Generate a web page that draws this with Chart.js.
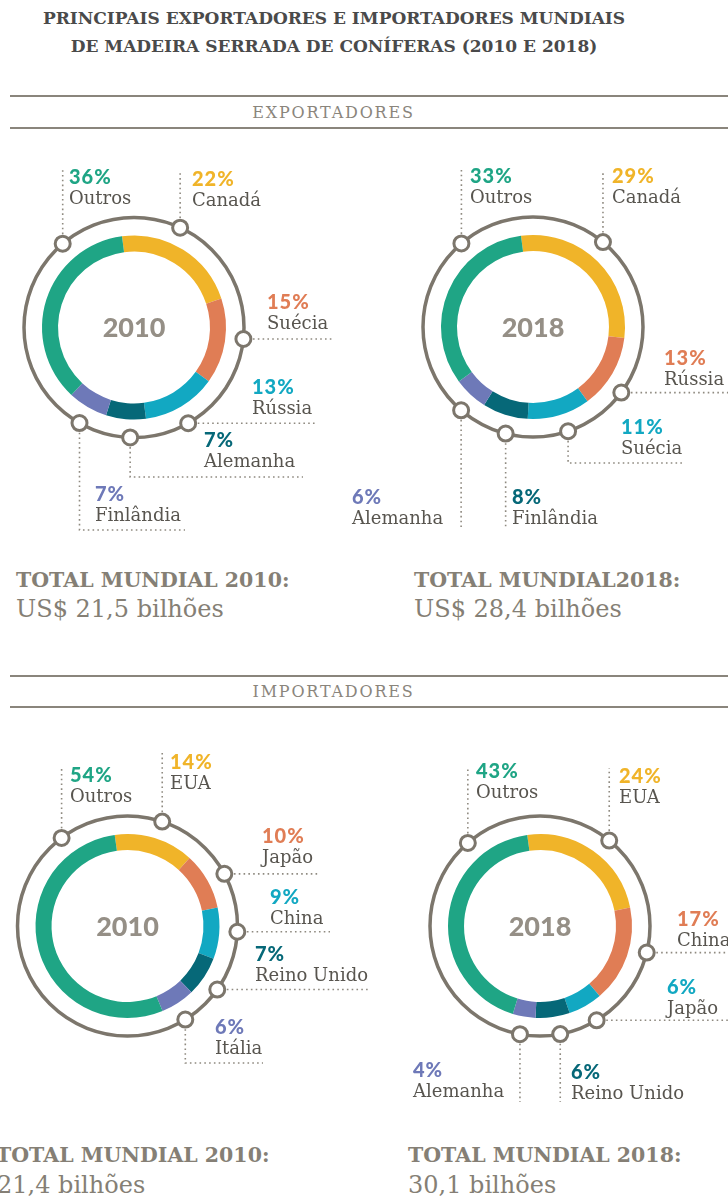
<!DOCTYPE html>
<html>
<head>
<meta charset="utf-8">
<script src="https://cdn.jsdelivr.net/npm/chart.js@4.4.1/dist/chart.umd.min.js"></script>
<style>
  body { margin: 0; background: #fff; width: 728px; height: 1196px; overflow: hidden; position: relative; font-family: "DejaVu Serif", serif; }
  .t { position: absolute; white-space: nowrap; }
  .title { left: 0; width: 668px; text-align: center; font-weight: bold; font-size: 17px; color: #4a4a4a; line-height: 28px; top: 4px; }
  .rule { position: absolute; left: 10px; right: 0; height: 0; border-top: 2.5px solid #8a857c; }
  .section { left: 0; width: 667px; text-align: center; font-size: 16px; letter-spacing: 1.8px; color: #8a857c; line-height: 20px; }
  .totHead { font-weight: bold; font-size: 20.5px; color: #857f75; line-height: 24px; }
  .totVal { font-size: 24px; color: #857f75; line-height: 28px; }
  canvas { position: absolute; left: 0; top: 0; }
</style>
</head>
<body>
<div class="t title">PRINCIPAIS EXPORTADORES E IMPORTADORES MUNDIAIS<br>DE MADEIRA SERRADA DE CONÍFERAS (2010 E 2018)</div>

<div class="rule" style="top:95px"></div>
<div class="t section" style="top:103px">EXPORTADORES</div>
<div class="rule" style="top:127px"></div>

<div class="t totHead" style="left:16px;top:568px">TOTAL MUNDIAL 2010:</div>
<div class="t totVal" style="left:16px;top:595px">US$ 21,5 bilhões</div>
<div class="t totHead" style="left:414px;top:568px">TOTAL MUNDIAL2018:</div>
<div class="t totVal" style="left:414px;top:595px">US$ 28,4 bilhões</div>

<div class="rule" style="top:675px"></div>
<div class="t section" style="top:682px">IMPORTADORES</div>
<div class="rule" style="top:706px"></div>

<div class="t totHead" style="left:-4px;top:1143px">TOTAL MUNDIAL 2010:</div>
<div class="t totVal" style="left:-3px;top:1171px">21,4 bilhões</div>
<div class="t totHead" style="left:408px;top:1143px">TOTAL MUNDIAL 2018:</div>
<div class="t totVal" style="left:408px;top:1171px">30,1 bilhões</div>

<canvas id="c0" width="728" height="1196"></canvas>
<canvas id="c1" width="728" height="1196"></canvas>
<canvas id="c2" width="728" height="1196"></canvas>
<canvas id="c3" width="728" height="1196"></canvas>

<script>
// slice colours, by position around the ring
const palette = ['#f0b429', '#e07d55', '#12a8c2', '#066878', '#6e79b8', '#1fa585'];

const exp2010Labels = ['Canadá', 'Suécia', 'Rússia', 'Alemanha', 'Finlândia', 'Outros'];
const exp2010Values = [22, 15, 13, 7, 7, 36];
const exp2018Labels = ['Canadá', 'Rússia', 'Suécia', 'Finlândia', 'Alemanha', 'Outros'];
const exp2018Values = [29, 13, 11, 8, 6, 33];
const imp2010Labels = ['EUA', 'Japão', 'China', 'Reino Unido', 'Itália', 'Outros'];
const imp2010Values = [14, 10, 9, 7, 6, 54];
const imp2018Labels = ['EUA', 'China', 'Japão', 'Reino Unido', 'Alemanha', 'Outros'];
const imp2018Values = [24, 17, 6, 6, 4, 43];
const years = ['2010', '2018', '2010', '2018'];

// where each ring sits and how its callouts are routed
const layouts = [
  { cx: 134, cy: 327.5, rot: -7.5, tags: [
    { ang: 24.8, x: 192, y: 180, lead: { up: 170 } },
    { ang: 96, x: 267, y: 303, lead: { right: 332 } },
    { ang: 150.5, x: 252, y: 388, lead: { right: 315 } },
    { ang: 182, x: 204, y: 441, lead: { down: 477, right: 303 } },
    { ang: 209.7, x: 95, y: 495, lead: { down: 530, right: 185 } },
    { ang: -40.4, x: 69, y: 178, lead: { up: 170 } }
  ]},
  { cx: 533, cy: 327, rot: -7.5, tags: [
    { ang: 39.5, x: 612, y: 177, lead: { up: 170 } },
    { ang: 126.6, x: 664, y: 359, lead: { right: 728 } },
    { ang: 161.4, x: 621, y: 428, lead: { down: 463, right: 682 } },
    { ang: 194.4, x: 512, y: 498, lead: { down: 528 } },
    { ang: 220.8, x: 352, y: 498, lead: { down: 528 } },
    { ang: -40.6, x: 470, y: 177, lead: { up: 170 } }
  ]},
  { cx: 127.5, cy: 926, rot: -8, tags: [
    { ang: 18.4, x: 170, y: 763, lead: { up: 753 } },
    { ang: 61.7, x: 262, y: 837, lead: { right: 320 } },
    { ang: 93, x: 270, y: 898, lead: { right: 330 } },
    { ang: 125.3, x: 255, y: 955, lead: { right: 368 } },
    { ang: 148.3, x: 215, y: 1028, lead: { down: 1063, right: 263 } },
    { ang: -36.8, x: 70, y: 776, lead: { up: 768 } }
  ]},
  { cx: 540, cy: 926, rot: -8, tags: [
    { ang: 39, x: 619, y: 777, lead: { up: 768 } },
    { ang: 104, x: 677, y: 920, lead: { right: 728 } },
    { ang: 149, x: 667, y: 988, lead: { right: 728 } },
    { ang: 169.4, x: 571, y: 1073, lead: { down: 1102 } },
    { ang: 190.5, x: 413, y: 1071, lead: { down: 1102 } },
    { ang: -41, x: 476, y: 772, lead: { up: 767 } }
  ]}
];

const series = [
  [exp2010Labels, exp2010Values],
  [exp2018Labels, exp2018Values],
  [imp2010Labels, imp2010Values],
  [imp2018Labels, imp2018Values]
];

const RING = 110;
const W = 728, H = 1196;

const calloutPlugin = {
  id: 'callouts',
  afterDraw(chart, args, opts) {
    const ctx = chart.ctx;
    const lay = opts.layout;
    const arc = chart.getDatasetMeta(0).data[0];
    const cx = arc.x, cy = arc.y;
    const names = chart.data.labels;
    const vals = chart.data.datasets[0].data;
    const pts = lay.tags.map(t => {
      const a = t.ang * Math.PI / 180;
      return { x: cx + RING * Math.sin(a), y: cy - RING * Math.cos(a) };
    });

    ctx.save();
    // dotted leader lines
    ctx.strokeStyle = '#8f8a80';
    ctx.lineWidth = 1.6;
    ctx.setLineDash([1.6, 3.2]);
    lay.tags.forEach((t, i) => {
      const p = pts[i], l = t.lead;
      ctx.beginPath();
      ctx.moveTo(p.x, p.y);
      if (l.up !== undefined) ctx.lineTo(p.x, l.up);
      if (l.down !== undefined) ctx.lineTo(p.x, l.down);
      if (l.right !== undefined) ctx.lineTo(l.right, l.down !== undefined ? l.down : p.y);
      ctx.stroke();
    });
    ctx.setLineDash([]);

    // outer ring
    ctx.strokeStyle = '#7c766c';
    ctx.lineWidth = 3.5;
    ctx.beginPath();
    ctx.arc(cx, cy, RING, 0, Math.PI * 2);
    ctx.stroke();

    // markers
    ctx.lineWidth = 3;
    pts.forEach(p => {
      ctx.beginPath();
      ctx.arc(p.x, p.y, 7.5, 0, Math.PI * 2);
      ctx.fillStyle = '#fff';
      ctx.fill();
      ctx.stroke();
    });

    // labels
    ctx.textBaseline = 'middle';
    ctx.textAlign = 'left';
    lay.tags.forEach((t, i) => {
      ctx.font = '900 20px Lato, sans-serif';
      ctx.letterSpacing = '1px';
      ctx.fillStyle = palette[i];
      ctx.fillText(vals[i] + '%', t.x, t.y);
      ctx.letterSpacing = '0px';
      ctx.font = '18px "DejaVu Serif", serif';
      ctx.fillStyle = '#58554f';
      ctx.fillText(names[i], t.x, t.y + 21);
    });

    // year in the middle
    ctx.textAlign = 'center';
    ctx.font = '900 27px Lato, sans-serif';
    ctx.fillStyle = '#958f86';
    ctx.fillText(opts.year, cx, cy + 1);
    ctx.restore();
  }
};

series.forEach(([labels, values], k) => {
  const lay = layouts[k];
  const padding = {
    left: Math.max(0, 2 * lay.cx - W),
    right: Math.max(0, W - 2 * lay.cx),
    top: Math.max(0, 2 * lay.cy - H),
    bottom: Math.max(0, H - 2 * lay.cy)
  };
  new Chart(document.getElementById('c' + k), {
    type: 'doughnut',
    data: {
      labels: labels,
      datasets: [{
        data: values,
        backgroundColor: palette,
        borderWidth: 0
      }]
    },
    options: {
      responsive: false,
      animation: false,
      rotation: lay.rot,
      radius: 92,
      cutout: '82.6%',
      layout: { padding: padding },
      plugins: {
        legend: { display: false },
        tooltip: { enabled: false },
        callouts: { layout: lay, year: years[k] }
      }
    },
    plugins: [calloutPlugin]
  });
});
</script>
</body>
</html>
